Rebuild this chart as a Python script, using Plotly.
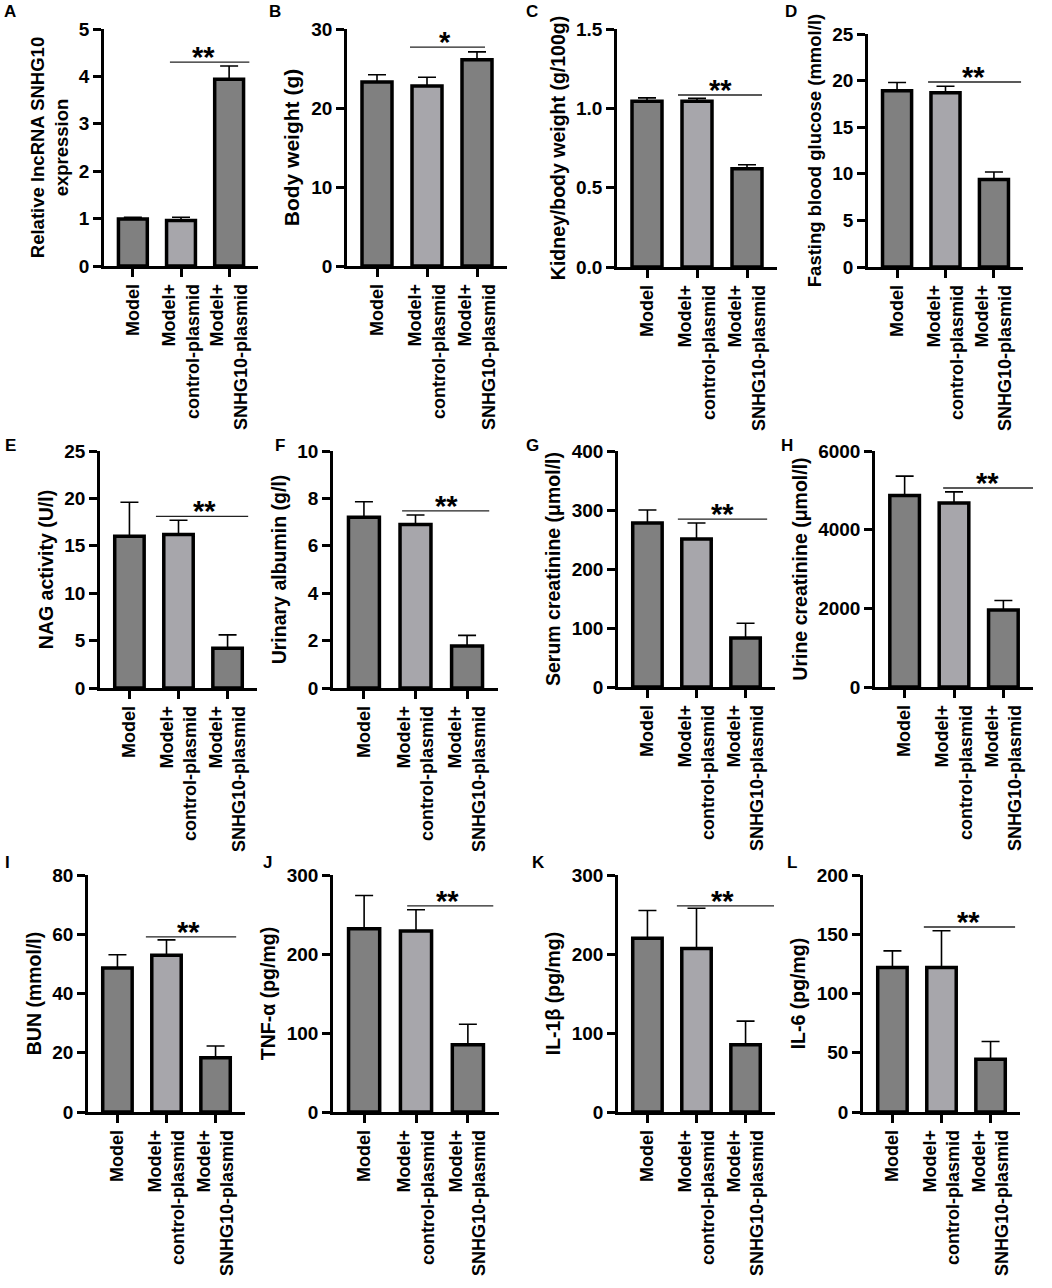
import plotly.graph_objects as go

W, H = 1052, 1288
FONT = "Liberation Sans, Arial, sans-serif"

groups = ["Model", "Model+<br>control-plasmid", "Model+<br>SNHG10-plasmid"]
bar_colors = ["#808080", "#a7a6ab", "#808080"]

# group means and upper SD
lncrna_mean = [0.99, 0.96, 3.94]
lncrna_err = [0.04, 0.07, 0.28]
body_mean = [23.3, 22.8, 26.1]
body_err = [0.9, 1.1, 1.0]
kidney_mean = [1.045, 1.045, 0.62]
kidney_err = [0.021, 0.018, 0.024]
glucose_mean = [18.9, 18.7, 9.4]
glucose_err = [0.9, 0.7, 0.8]
nag_mean = [16.0, 16.2, 4.2]
nag_err = [3.6, 1.5, 1.4]
albumin_mean = [7.2, 6.9, 1.77]
albumin_err = [0.66, 0.4, 0.45]
scr_mean = [278, 251, 83]
scr_err = [22, 27, 25]
ucr_mean = [4870, 4680, 1960]
ucr_err = [490, 280, 240]
bun_mean = [48.6, 52.9, 18.3]
bun_err = [4.5, 5.2, 4.0]
tnf_mean = [232, 229, 85]
tnf_err = [42, 27, 26]
il1b_mean = [220, 207, 85]
il1b_err = [35, 51, 30]
il6_mean = [122, 122, 44.5]
il6_err = [14, 31, 15]

# letter, y title, means, errs, ymax, dtick, tick format, title size,
# bracket (y, x0, x1, star x, stars), pixel box (left, right, top, bottom)
panels = [
    ("A", "Relative lncRNA SNHG10<br>expression", lncrna_mean, lncrna_err, 5, 1, "", 18.5,
     (4.3, 0.77, 2.42, 1.46, "**"), (104, 258, 29, 266)),
    ("B", "Body weight (g)", body_mean, body_err, 30, 10, "", 21,
     (27.7, 0.66, 2.16, 1.36, "*"), (347, 507, 29, 266)),
    ("C", "Kidney/body weight (g/100g)", kidney_mean, kidney_err, 1.5, 0.5, ".1f", 19.5,
     (1.084, 0.62, 2.3, 1.46, "**"), (617, 777, 29, 267)),
    ("D", "Fasting blood glucose (mmol/l)", glucose_mean, glucose_err, 25, 5, "", 18.5,
     (19.85, 0.64, 2.56, 1.57, "**"), (868, 1023, 34, 267)),
    ("E", "NAG activity (U/l)", nag_mean, nag_err, 25, 5, "", 19.5,
     (18.1, 0.54, 2.42, 1.54, "**"), (100, 257, 451, 688)),
    ("F", "Urinary albumin (g/l)", albumin_mean, albumin_err, 10, 2, "", 19.5,
     (7.47, 0.74, 2.43, 1.6, "**"), (333, 498, 451, 688)),
    ("G", "Serum creatinine (μmol/l)", scr_mean, scr_err, 400, 100, "", 19.5,
     (284.7, 0.62, 2.44, 1.54, "**"), (618, 775, 451, 687)),
    ("H", "Urine creatinine (μmol/l)", ucr_mean, ucr_err, 6000, 2000, "", 19.5,
     (5059, 0.78, 2.6, 1.67, "**"), (875, 1033, 451, 687)),
    ("I", "BUN (mmol/l)", bun_mean, bun_err, 80, 20, "", 19.5,
     (59.1, 0.58, 2.42, 1.44, "**"), (88, 245, 875, 1112)),
    ("J", "TNF-α (pg/mg)", tnf_mean, tnf_err, 300, 100, "", 19.5,
     (260.8, 0.83, 2.49, 1.6, "**"), (333, 499, 875, 1112)),
    ("K", "IL-1β (pg/mg)", il1b_mean, il1b_err, 300, 100, "", 19.5,
     (260.8, 0.6, 2.58, 1.52, "**"), (618, 775, 875, 1112)),
    ("L", "IL-6 (pg/mg)", il6_mean, il6_err, 200, 50, "", 19.5,
     (156.1, 0.64, 2.5, 1.55, "**"), (863, 1020, 875, 1112)),
]

fig = go.Figure()
layout = {}

for i, (letter, title, mean, err, ymax, dtick, fmt, tsize, sig, box) in enumerate(panels, start=1):
    sfx = "" if i == 1 else str(i)
    xa, ya = "x" + sfx, "y" + sfx
    left, right, top, bottom = box

    fig.add_trace(go.Bar(
        x=groups, y=mean, xaxis=xa, yaxis=ya,
        marker=dict(color=bar_colors, line=dict(color="black", width=3.5)),
        error_y=dict(type="data", array=err, arrayminus=[0, 0, 0], symmetric=False,
                     color="black", thickness=1.6, width=9),
        showlegend=False, hoverinfo="skip",
    ))

    layout["xaxis" + sfx] = dict(
        domain=[left / W, right / W], anchor=ya, range=[-0.6, 2.6], automargin=False,
        showline=True, linecolor="black", linewidth=2.5,
        ticks="outside", ticklen=8, tickwidth=2.5, tickcolor="black",
        tickangle=-90, tickfont=dict(family=FONT, size=18, color="black", weight="bold"),
        showgrid=False, zeroline=False, fixedrange=True,
    )
    layout["yaxis" + sfx] = dict(
        domain=[1 - bottom / H, 1 - top / H], anchor=xa, range=[0, ymax], automargin=False,
        dtick=dtick, tick0=0, tickformat=fmt,
        showline=True, linecolor="black", linewidth=2.5,
        ticks="outside", ticklen=8, tickwidth=2.5, tickcolor="black",
        tickfont=dict(family=FONT, size=19, color="black", weight="bold"),
        title=dict(text=title, standoff=6,
                   font=dict(family=FONT, size=tsize, color="black", weight="bold")),
        showgrid=False, zeroline=False, fixedrange=True,
    )

    sy, sx0, sx1, star_x, stars = sig
    fig.add_shape(type="line", xref=xa, yref=ya, x0=sx0, x1=sx1, y0=sy, y1=sy,
                  line=dict(color="#222222", width=1.3))
    fig.add_annotation(xref=xa, yref=ya, x=star_x, y=sy, text=stars, showarrow=False,
                       yanchor="bottom", yshift=-13,
                       font=dict(family=FONT, size=29, color="black", weight="bold"))

letter_pos = {"A": (10, 12), "B": (275, 12), "C": (532, 12), "D": (791, 12),
              "E": (10, 445), "F": (280, 445), "G": (532, 445), "H": (787, 445),
              "I": (7, 862), "J": (267, 862), "K": (538, 863), "L": (792, 863)}
for letter, (px, py) in letter_pos.items():
    fig.add_annotation(xref="paper", yref="paper", x=px / W, y=1 - py / H, text=letter,
                       showarrow=False, xanchor="center", yanchor="middle",
                       font=dict(family=FONT, size=17, color="black", weight="bold"))

fig.update_layout(
    template="none",
    width=W, height=H, margin=dict(l=0, r=0, t=0, b=0, autoexpand=False),
    paper_bgcolor="white", plot_bgcolor="white", bargap=0.4,
    **layout,
)

# the page body has a default 8px margin; drop it so the figure fills the window
fig.write_html("out.html", config={"displayModeBar": False},
               post_script="document.body.style.margin = '0';")
